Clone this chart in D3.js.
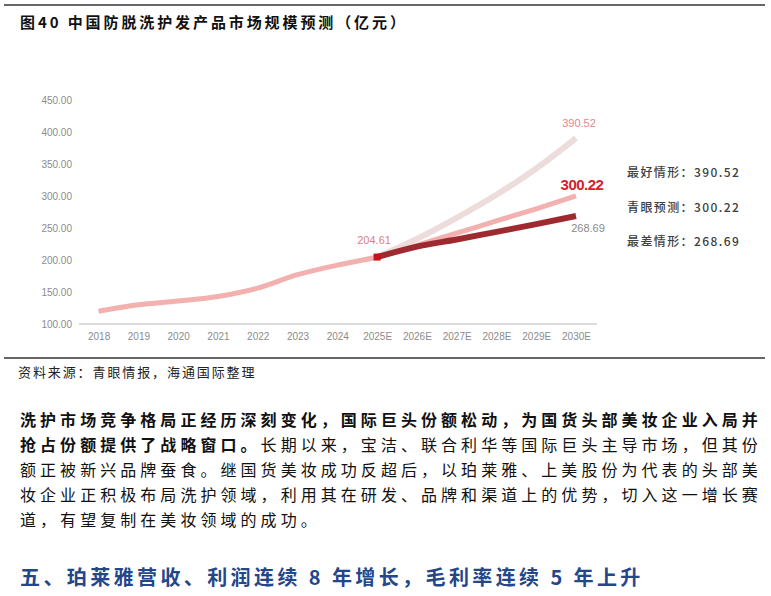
<!DOCTYPE html>
<html>
<head>
<meta charset="utf-8">
<script src="https://cdn.jsdelivr.net/npm/d3@7"></script>
<style>
  body { margin: 0; background: #fff; }
  svg { display: block; }
</style>
</head>
<body>
<svg id="page" width="771" height="596"></svg>
<script>
// chart data
var years = ['2018', '2019', '2020', '2021', '2022', '2023', '2024', '2025E',
  '2026E', '2027E', '2028E', '2029E', '2030E'];
var histYears = years.slice(0, 8);
var foreYears = years.slice(7);
var histValues = [120, 130, 136, 143, 156, 177, 192, 204.61];
var baseValues = [204.61, 223, 242, 261, 280, 300.22];
var bestValues = [204.61, 233, 266, 302, 343, 390.52];
var worstValues = [204.61, 221, 232, 244, 256, 268.69];
var yTicks = [100, 150, 200, 250, 300, 350, 400, 450];

var legendLabels = ['最好情形：', '青眼预测：', '最差情形：'];
var legendValues = [390.52, 300.22, 268.69];

var titleText = '图40 中国防脱洗护发产品市场规模预测（亿元）';
var sourceText = '资料来源：青眼情报，海通国际整理';
var bodyLines = [
  [['洗护市场竞争格局正经历深刻变化，国际巨头份额松动，为国货头部美妆企业入局并', true]],
  [['抢占份额提供了战略窗口。', true], ['长期以来，宝洁、联合利华等国际巨头主导市场，但其份', false]],
  [['额正被新兴品牌蚕食。继国货美妆成功反超后，以珀莱雅、上美股份为代表的头部美', false]],
  [['妆企业正积极布局洗护领域，利用其在研发、品牌和渠道上的优势，切入这一增长赛', false]],
  [['道，有望复制在美妆领域的成功。', false]]
];
var headingText = '五、珀莱雅营收、利润连续 8 年增长，毛利率连续 5 年上升';

var cjk = '"Noto Sans CJK SC", "Noto Sans", sans-serif';
var latin = '"Liberation Sans", Arial, sans-serif';

var svg = d3.select('#page');

// frame lines
svg.append('line').attr('x1', 4).attr('x2', 765).attr('y1', 5).attr('y2', 5)
  .attr('stroke', '#666').attr('stroke-width', 2);
svg.append('line').attr('x1', 4).attr('x2', 765).attr('y1', 358).attr('y2', 358)
  .attr('stroke', '#666').attr('stroke-width', 2);

svg.append('text').attr('x', 20).attr('y', 28)
  .attr('font-family', cjk).attr('font-size', 15).attr('font-weight', 'bold')
  .attr('letter-spacing', 2.9).attr('fill', '#111').text(titleText);

// scales
var x = d3.scalePoint().domain(years).range([98.6, 576]);
var y = d3.scaleLinear().domain([100, 450]).range([324, 100]);

var chart = svg.append('g');

// base line of the axis
chart.append('line').attr('x1', 79).attr('x2', 597)
  .attr('y1', y(100)).attr('y2', y(100))
  .attr('stroke', '#dcdcdc').attr('stroke-width', 2);

var yAxis = d3.axisLeft(y).tickValues(yTicks).tickFormat(d3.format('.2f')).tickSize(0).tickPadding(0);
chart.append('g').attr('transform', 'translate(72,0)').call(yAxis)
  .call(g => g.select('.domain').remove())
  .selectAll('text').attr('font-family', latin).attr('font-size', 10).attr('fill', '#8c8c8c');

var xAxis = d3.axisBottom(x).tickSize(0).tickPadding(0);
chart.append('g').attr('transform', 'translate(0,333)').call(xAxis)
  .call(g => g.select('.domain').remove())
  .selectAll('text').attr('font-family', latin).attr('font-size', 10).attr('fill', '#8c8c8c');

var line = d3.line()
  .x(d => x(d[0]))
  .y(d => y(d[1]))
  .curve(d3.curveMonotoneX);

function pairs(ks, vs) { return ks.map((k, i) => [k, vs[i]]); }

chart.append('path').datum(pairs(histYears, histValues).concat(pairs(foreYears, baseValues).slice(1)))
  .attr('d', line).attr('fill', 'none').attr('stroke', '#f2b0ae').attr('stroke-width', 5);

chart.append('path').datum(pairs(foreYears, bestValues))
  .attr('d', line).attr('fill', 'none').attr('stroke', '#ecdcdb').attr('stroke-width', 6);

chart.append('path').datum(pairs(foreYears, worstValues))
  .attr('d', line).attr('fill', 'none').attr('stroke', '#9e2a2f').attr('stroke-width', 6);

// 2025E marker
chart.append('rect')
  .attr('x', x('2025E') - 3.5).attr('y', y(204.61) - 3.5)
  .attr('width', 7).attr('height', 7).attr('fill', '#c8101e');

// value labels
var last = '2030E';
chart.append('text').attr('x', x('2025E') - 3).attr('y', y(204.61) - 13)
  .attr('text-anchor', 'middle').attr('font-family', latin).attr('font-size', 11)
  .attr('fill', '#e07d84').text(d3.format('.2f')(204.61));
chart.append('text').attr('x', x(last) + 3).attr('y', y(bestValues[5]) - 11)
  .attr('text-anchor', 'middle').attr('font-family', latin).attr('font-size', 11)
  .attr('fill', '#e5868c').text(d3.format('.2f')(bestValues[5]));
chart.append('text').attr('x', x(last) + 6).attr('y', y(baseValues[5]) - 6)
  .attr('text-anchor', 'middle').attr('font-family', latin).attr('font-size', 15)
  .attr('font-weight', 'bold').attr('letter-spacing', -0.5)
  .attr('fill', '#d2232b').text(d3.format('.2f')(baseValues[5]));
chart.append('text').attr('x', x(last) + 12).attr('y', y(worstValues[5]) + 16)
  .attr('text-anchor', 'middle').attr('font-family', latin).attr('font-size', 11)
  .attr('fill', '#8a8a8a').text(d3.format('.2f')(worstValues[5]));

// legend block on the right
var legendY = [177, 212, 246];
chart.selectAll('.legend').data(legendLabels).enter().append('text')
  .attr('class', 'legend')
  .attr('x', 627).attr('y', (d, i) => legendY[i])
  .attr('font-family', cjk).attr('font-size', 12).attr('font-weight', 500)
  .attr('letter-spacing', 1.4).attr('fill', '#404040')
  .text((d, i) => d + d3.format('.2f')(legendValues[i]));

// source note
svg.append('text').attr('x', 18).attr('y', 377)
  .attr('font-family', cjk).attr('font-size', 13).attr('letter-spacing', 1.9)
  .attr('fill', '#222').text(sourceText);

// body paragraph
var para = svg.append('g');
bodyLines.forEach(function (parts, i) {
  var t = para.append('text').attr('x', 20).attr('y', 426 + i * 25)
    .attr('font-family', cjk).attr('font-size', 16).attr('letter-spacing', 4.05)
    .attr('fill', '#111');
  parts.forEach(function (p) {
    t.append('tspan').attr('font-weight', p[1] ? 'bold' : 'normal').text(p[0]);
  });
});

// section heading
svg.append('text').attr('x', 20).attr('y', 585)
  .attr('font-family', cjk).attr('font-size', 20).attr('font-weight', 'bold')
  .attr('letter-spacing', 3.4).attr('fill', '#24468a').text(headingText);
</script>
</body>
</html>
